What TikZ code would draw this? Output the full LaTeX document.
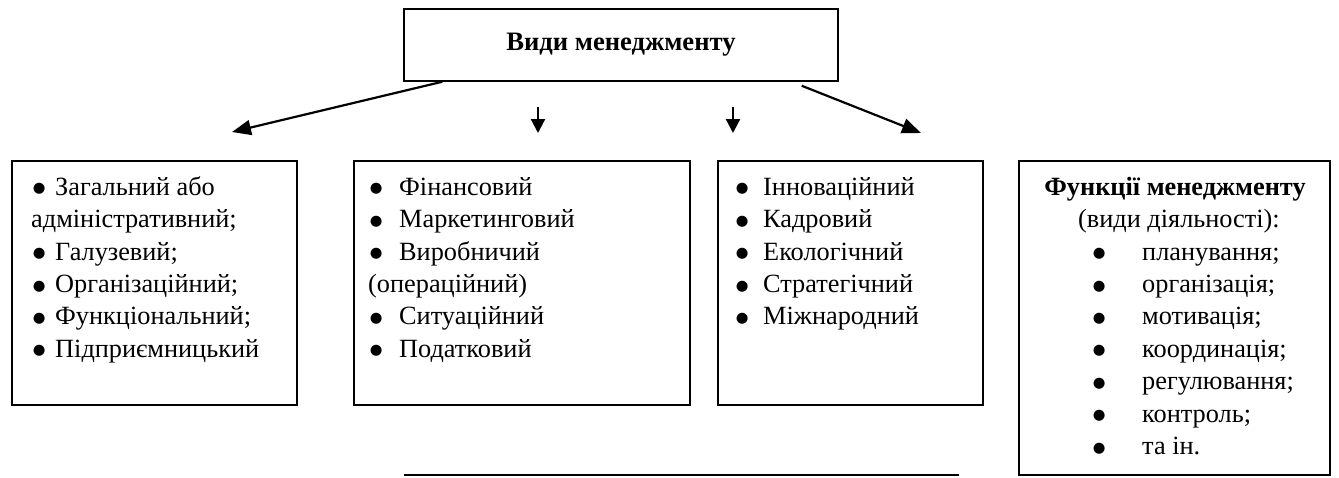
\documentclass[tikz,border=0pt]{standalone}
\usepackage{fontspec}
\setmainfont{Liberation Serif}
\newfontfamily\dvbul{DejaVu Sans}
\usetikzlibrary{arrows.meta}
\newcommand\bl[2]{\makebox[#2][l]{\makebox[#1][c]{\raisebox{2.4pt}{\dvbul\fontsize{14.5}{14.5}\selectfont ●}}}}
\begin{document}
\begin{tikzpicture}[x=1pt,y=-1pt,
  box/.style={draw, line width=1.5pt, inner sep=0pt, anchor=north west},
  txt/.style={inner sep=0pt, anchor=north west, align=left, font=\fontsize{26.3}{32.4}\selectfont},
  lbl/.style={inner sep=0pt, anchor=base, font=\fontsize{26.3}{32.4}\selectfont},
  arr/.style={line width=2.2pt, -{Triangle[length=19pt,width=15pt]}},
  sarr/.style={line width=2.2pt, -{Triangle[length=14pt,width=14pt]}}]
\useasboundingbox (0,0) rectangle (1339,477);
% top box
\node[draw, line width=1.5pt, inner sep=0pt, minimum width=434pt, minimum height=72pt,
  font=\fontsize{26.6}{32}\selectfont\bfseries] (top) at (621,45) {Види менеджменту};
% boxes
\node[box, minimum width=285pt, minimum height=244pt] (b1) at (11,160) {};
\node[box, minimum width=336pt, minimum height=244pt] (b2) at (353,160) {};
\node[box, minimum width=265pt, minimum height=244pt] (b3) at (717,160) {};
\node[box, minimum width=311pt, minimum height=314pt] (b4) at (1018,160) {};
% texts
\node[txt] (t1) at (31,169) {\rule{0pt}{26pt}\bl{16pt}{24pt}Загальний або\\
адміністративний;\\
\bl{16pt}{24pt}Галузевий;\\
\bl{16pt}{24pt}Організаційний;\\
\bl{16pt}{24pt}Функціональний;\\
\bl{16pt}{24pt}Підприємницький};
\node[txt] (t2) at (368,169) {\rule{0pt}{26pt}\bl{16pt}{31pt}Фінансовий\\
\bl{16pt}{31pt}Маркетинговий\\
\bl{16pt}{31pt}Виробничий\\
(операційний)\\
\bl{16pt}{31pt}Ситуаційний\\
\bl{16pt}{31pt}Податковий};
\node[txt] (t3) at (734,169) {\rule{0pt}{26pt}\bl{16pt}{29pt}Інноваційний\\
\bl{16pt}{29pt}Кадровий\\
\bl{16pt}{29pt}Екологічний\\
\bl{16pt}{29pt}Стратегічний\\
\bl{16pt}{29pt}Міжнародний};
\node[lbl, font=\fontsize{26.3}{32.4}\selectfont\bfseries] (f1) at (1175,195) {Функції менеджменту};
\node[lbl] (f2) at (1179,227.4) {(види діяльності):};
\node[txt] (t4) at (1091,233.8) {\rule{0pt}{26pt}\bl{16pt}{51pt}планування;\\
\bl{16pt}{51pt}організація;\\
\bl{16pt}{51pt}мотивація;\\
\bl{16pt}{51pt}координація;\\
\bl{16pt}{51pt}регулювання;\\
\bl{16pt}{51pt}контроль;\\
\bl{16pt}{51pt}та ін.};
% arrows
\coordinate (la) at (232,132);
\coordinate (ra) at (921,133);
\coordinate (d1s) at (538,107);
\coordinate (d1e) at (538,133);
\coordinate (d2s) at (733,107);
\coordinate (d2e) at (733,133);
\draw[arr] ([xshift=39pt]top.south west) -- (la);
\draw[arr] ([xshift=-37pt,yshift=-4pt]top.south east) -- (ra);
\draw[sarr] (d1s) -- (d1e);
\draw[sarr] (d2s) -- (d2e);
% bottom line
\coordinate (l1) at (404,475);
\coordinate (l2) at (959,475);
\draw[line width=1.5pt] (l1) -- (l2);
\end{tikzpicture}
\end{document}
